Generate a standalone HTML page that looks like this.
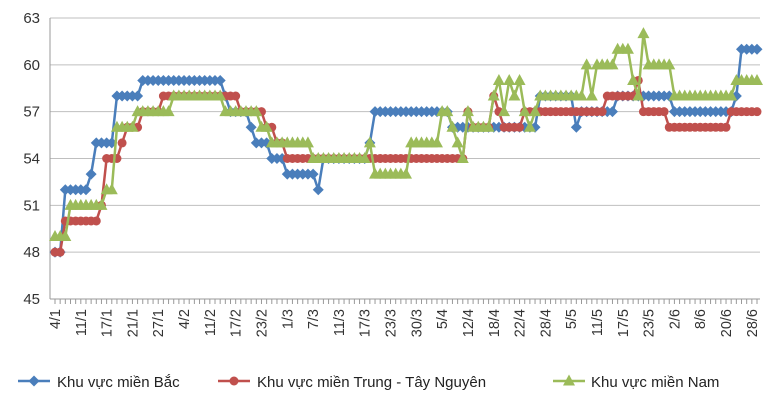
<!DOCTYPE html>
<html><head><meta charset="utf-8"><style>
body{margin:0;background:#fff;width:765px;height:404px;overflow:hidden;font-family:"Liberation Sans","DejaVu Sans",sans-serif}
</style></head><body>
<svg id="chart" width="765" height="404" xmlns="http://www.w3.org/2000/svg"></svg>
<script>
const blue=[48,48,52,52,52,52,52,53,55,55,55,55,58,58,58,58,58,59,59,59,59,59,59,59,59,59,59,59,59,59,59,59,59,58,57,57,57,57,56,55,55,55,54,54,54,53,53,53,53,53,53,52,54,54,54,54,54,54,54,54,54,55,57,57,57,57,57,57,57,57,57,57,57,57,57,57,57,56,56,56,56,56,56,56,56,56,56,56,56,56,56,56,56,56,58,58,58,58,58,58,58,56,57,57,57,57,57,57,57,58,58,58,58,58,58,58,58,58,58,58,57,57,57,57,57,57,57,57,57,57,57,57,58,61,61,61,61];
const red=[48,48,50,50,50,50,50,50,50,51,54,54,54,55,56,56,56,57,57,57,57,58,58,58,58,58,58,58,58,58,58,58,58,58,58,58,57,57,57,57,57,56,56,55,55,54,54,54,54,54,54,54,54,54,54,54,54,54,54,54,54,54,54,54,54,54,54,54,54,54,54,54,54,54,54,54,54,54,54,54,57,56,56,56,56,58,57,56,56,56,56,57,57,57,57,57,57,57,57,57,57,57,57,57,57,57,57,58,58,58,58,58,58,59,57,57,57,57,57,56,56,56,56,56,56,56,56,56,56,56,56,57,57,57,57,57,57];
const green=[49,49,49,51,51,51,51,51,51,51,52,52,56,56,56,56,57,57,57,57,57,57,57,58,58,58,58,58,58,58,58,58,58,57,57,57,57,57,57,57,56,56,55,55,55,55,55,55,55,55,54,54,54,54,54,54,54,54,54,54,54,55,53,53,53,53,53,53,53,55,55,55,55,55,55,57,57,56,55,54,57,56,56,56,56,58,59,57,59,58,59,57,56,57,58,58,58,58,58,58,58,58,58,60,58,60,60,60,60,61,61,61,59,58,62,60,60,60,60,60,58,58,58,58,58,58,58,58,58,58,58,58,59,59,59,59,59];
const xLabels=["4/1","11/1","17/1","21/1","27/1","4/2","11/2","17/2","23/2","1/3","7/3","11/3","17/3","23/3","30/3","5/4","12/4","18/4","22/4","28/4","5/5","11/5","17/5","23/5","2/6","8/6","20/6","28/6"];
const yTicks=[45,48,51,54,57,60,63];
const seriesNames=["Khu vực miền Bắc","Khu vực miền Trung - Tây Nguyên","Khu vực miền Nam"];

const svg=document.getElementById('chart');
const NS='http://www.w3.org/2000/svg';
const X0=55,X1=757,PL=50,PR=760,Y45=299,Y63=18;
const N=blue.length;
const xs=i=>X0+(X1-X0)*i/(N-1);
const ys=v=>Y45-(v-45)*(Y45-Y63)/18;
function mk(t,a,p){const e=document.createElementNS(NS,t);for(const k in a)e.setAttribute(k,a[k]);(p||svg).appendChild(e);return e;}

const grid=mk('g',{});


yTicks.forEach(v=>{
  if(v>45){mk('line',{x1:PL,x2:PR,y1:ys(v),y2:ys(v),stroke:'#bfbfbf','stroke-width':1},grid);}
  const t=mk('text',{x:40,y:ys(v)+5,'text-anchor':'end','font-size':15,fill:'#333'});
  t.textContent=v;
  
  
});
const ax=mk('line',{x1:PL,x2:PL,y1:Y63,y2:Y45,stroke:'#999','stroke-width':1});


const xa=mk('line',{x1:PL,x2:PR,y1:Y45,y2:Y45,stroke:'#999','stroke-width':1});


for(let i=0;i<N;i++){mk('line',{x1:xs(i),x2:xs(i),y1:Y45,y2:Y45+5,stroke:'#999','stroke-width':1});}
xLabels.forEach((s,k)=>{
  const x=xs(k*5);
  const t=mk('text',{x:0,y:0,transform:`translate(${x+5},309) rotate(-90)`,'text-anchor':'end','font-size':14.5,fill:'#333'});
  t.textContent=s;
  
  
});

function marker(type,x,y,c,p){
  if(type==='d')return mk('polygon',{points:`${x},${y-5.5} ${x+5.5},${y} ${x},${y+5.5} ${x-5.5},${y}`,fill:c},p);
  if(type==='c')return mk('circle',{cx:x,cy:y,r:4.5,fill:c},p);
  return mk('polygon',{points:`${x},${y-6.5} ${x+6},${y+4.5} ${x-6},${y+4.5}`,fill:c},p);
}
const defs=[[blue,'#4a7ebb','d','series-bac'],[red,'#c0504d','c','series-trung'],[green,'#9bbb59','t','series-nam']];
defs.forEach(([d,c,m,n])=>{
  const g=mk('g',{});
  
  
  mk('polyline',{points:d.map((v,i)=>xs(i)+','+ys(v)).join(' '),fill:'none',stroke:c,'stroke-width':2.5,'stroke-linejoin':'round'},g);
  d.forEach((v,i)=>marker(m,xs(i),ys(v),c,g));
});

const lg=mk('g',{});


[[18,57],[218,257],[553,591]].forEach(([lx,tx],k)=>{
  const e=mk('g',{},lg);
  
  
  mk('line',{x1:lx,x2:lx+32,y1:381,y2:381,stroke:defs[k][1],'stroke-width':2.5},e);
  marker(defs[k][2],lx+16,381,defs[k][1],e);
  const t=mk('text',{x:tx,y:387,'font-size':15,fill:'#222'},e);
  t.textContent=seriesNames[k];
});
</script>
</body></html>
